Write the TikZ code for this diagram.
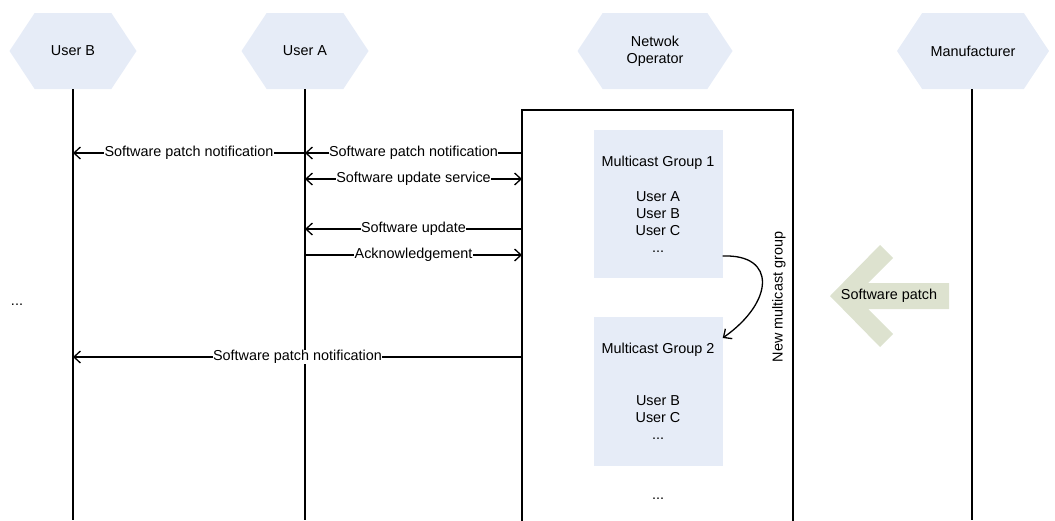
\documentclass[tikz,border=0pt]{standalone}
\usepackage{fontspec}
\setmainfont{Liberation Sans}
\usetikzlibrary{arrows.meta,shapes.symbols}
\definecolor{hexblue}{HTML}{E6ECF7}
\definecolor{patchgreen}{HTML}{DDE2CF}
\begin{document}
\begin{tikzpicture}[x=1pt,y=-1pt,
  every node/.style={font=\fontsize{14.4}{17}\selectfont, inner sep=1pt},
  hexbox/.style={signal, signal to=east and west, signal pointer angle=113,
    fill=hexblue, minimum width=127pt, minimum height=76pt, inner sep=0pt, align=center},
  grpbox/.style={fill=hexblue, minimum width=129pt, inner sep=0pt, align=center},
  life/.style={line width=1.6pt},
  frame/.style={line width=1.6pt},
  msg/.style={line width=1.3pt, -{Straight Barb[length=6.5pt,width=12pt]}},
  dmsg/.style={line width=1.3pt, {Straight Barb[length=6.5pt,width=12pt]}-{Straight Barb[length=6.5pt,width=12pt]}},
  lbl/.style={fill=white, inner sep=0.5pt}]
\useasboundingbox (0,0) rectangle (1055,520);

% actors
\node[hexbox] (ub) at (73,51) {User B};
\node[hexbox] (ua) at (305,51) {User A};
\node[hexbox, minimum width=155pt] (no) at (655,51) {Netwok\\Operator};
\node[hexbox, minimum width=152pt] (mf) at (973,51) {Manufacturer};

% lifelines
\coordinate (ubend) at (73,520);
\coordinate (uaend) at (305,520);
\coordinate (mfend) at (972,520);
\draw[life] (ub.south) -- (ubend);
\draw[life] (ua.south) -- (uaend);
\draw[life] (mf.south -| mfend) -- (mfend);

% operator frame
\coordinate (obl) at (522,521);
\coordinate (otl) at (522,110);
\coordinate (otr) at (793,110);
\coordinate (obr) at (793,521);
\draw[frame] (obl) -- (otl) -- (otr) -- (obr);

% messages
\draw[msg] (otl |- 0,153) -- node[lbl]{Software patch notification} (ua |- 0,153);
\draw[msg] (ua |- 0,153) -- node[lbl]{Software patch notification} (ub |- 0,153);
\draw[dmsg] (ua |- 0,179) -- node[lbl]{Software update service} (otl |- 0,179);
\draw[msg] (otl |- 0,229) -- node[lbl]{Software update} (ua |- 0,229);
\draw[msg] (ua |- 0,255) -- node[lbl]{Acknowledgement} (otl |- 0,255);
\draw[msg] (otl |- 0,357) -- node[lbl]{Software patch notification} (ub |- 0,357);

% multicast groups
\node[grpbox, minimum height=148pt] (g1) at (658,204)
  {Multicast Group 1\\[18pt]User A\\User B\\User C\\...};
\node[grpbox, minimum height=149pt] (g2) at (658,391.5)
  {Multicast Group 2\\[35pt]User B\\User C\\...};
\node (dots2) at (658,499) {...};
\node (dots1) at (17,305) {...};

% new group curve
\draw[line width=1.3pt, -{Straight Barb[length=6.5pt,width=12pt]}]
  (g1.east |- 0,256) .. controls (777,254) and (774,302) .. (g2.east |- 0,338);
\node[rotate=90] (ng) at (779,297) {New multicast group};

% software patch chevron
\fill[patchgreen] (830,296) -- (880,245) -- (893,258) -- (868,283) -- (949,283)
  -- (949,309) -- (868,309) -- (893,334) -- (880,347) -- cycle;
\node (sp) at (889,296) {Software patch};
\end{tikzpicture}
\end{document}
